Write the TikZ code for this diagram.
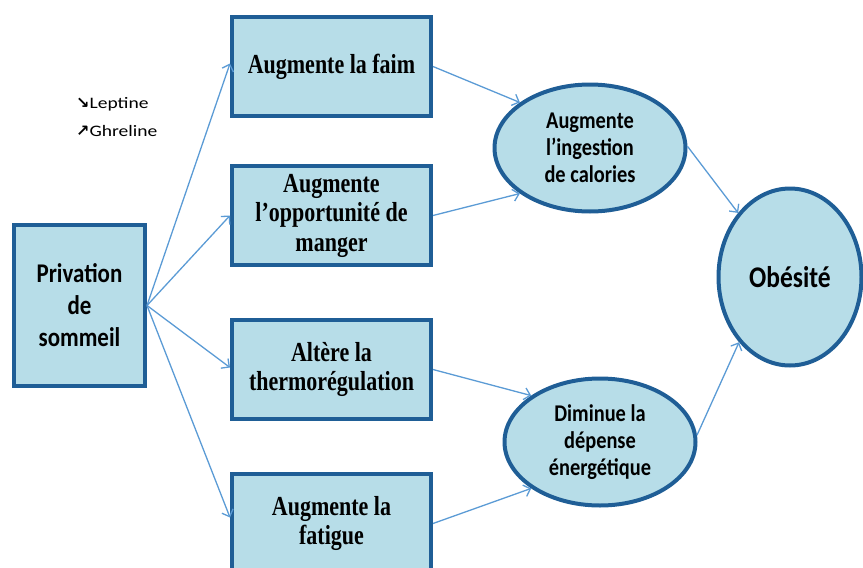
\documentclass[tikz,border=0pt]{standalone}
\usepackage{fontspec}
\setmainfont[FakeStretch=0.85]{Carlito}
\newfontfamily\notefont[FakeStretch=1.22]{Carlito}
\newfontfamily\serifbox[FakeStretch=0.8]{Liberation Serif}
\newfontfamily\symfont{DejaVu Sans}
\usetikzlibrary{shapes.geometric,arrows.meta,calc}
\definecolor{boxfill}{HTML}{B7DDE8}
\definecolor{boxline}{HTML}{1F5E96}
\definecolor{arrowc}{HTML}{5B9BD5}
\begin{document}
\begin{tikzpicture}[x=1pt,y=-1pt,
  rbox/.style={draw=boxline, fill=boxfill, line width=4pt, rectangle,
    minimum width=199pt, minimum height=99pt, align=center, inner sep=2pt,
    font=\serifbox\bfseries\fontsize{27.5}{29.5}\selectfont},
  lbox/.style={draw=boxline, fill=boxfill, line width=4pt, rectangle,
    minimum width=131pt, minimum height=161pt, align=center, inner sep=2pt,
    font=\bfseries\fontsize{27}{32}\selectfont},
  ebox/.style={draw=boxline, fill=boxfill, line width=4pt, ellipse,
    minimum width=191pt, minimum height=127pt, align=center, inner sep=0pt,
    font=\bfseries\fontsize{24}{27}\selectfont},
  obox/.style={draw=boxline, fill=boxfill, line width=4pt, ellipse,
    minimum width=143pt, minimum height=177pt, align=center, inner sep=0pt,
    font=\bfseries\fontsize{30}{32}\selectfont},
  conn/.style={draw=arrowc, line width=1.3pt, -{Straight Barb[length=6pt,width=12pt]}},
  note/.style={anchor=west, inner sep=0pt, font=\notefont\fontsize{16}{20}\selectfont}
]
\useasboundingbox (0,0) rectangle (863,568);

\node[lbox] (priv) at (79.5,305.5) {Privation\\de\\sommeil};

\node[rbox] (b1) at (331.5,66.5) {Augmente la faim};
\node[rbox] (b2) at (331.5,215.5) {Augmente\\l’opportunité de\\manger};
\node[rbox] (b3) at (331.5,369.5) {Altère la\\thermorégulation};
\node[rbox] (b4) at (331.5,523.5) {Augmente la\\fatigue};

\node[ebox] (e1) at (590,148) {Augmente\\l’ingestion\\de calories};
\node[ebox] (e2) at (600,442) {Diminue la\\dépense\\énergétique};
\node[obox] (ob) at (790,277) {Obésité};

\node[note] (lep) at (76,104) {{\symfont\bfseries ↘}Leptine};
\node[note] (ghr) at (76,131) {{\symfont\bfseries ↗}Ghreline};

\draw[conn] (priv.east) -- ($(b1.west)+(0,-3)$);
\draw[conn] (priv.east) -- (b2.west);
\draw[conn] (priv.east) -- ($(b3.west)+(0,-2)$);
\draw[conn] (priv.east) -- ($(b4.west)+(0,-6)$);

\draw[conn] (b1.east) -- (e1.147);
\draw[conn] (b2.east) -- (e1.213);
\draw[conn] (b3.east) -- (e2.146);
\draw[conn] (b4.east) -- (e2.214);

\draw[conn] (e1.1) -- (ob.129);
\draw[conn] (e2.4) -- (ob.232);
\end{tikzpicture}
\end{document}
